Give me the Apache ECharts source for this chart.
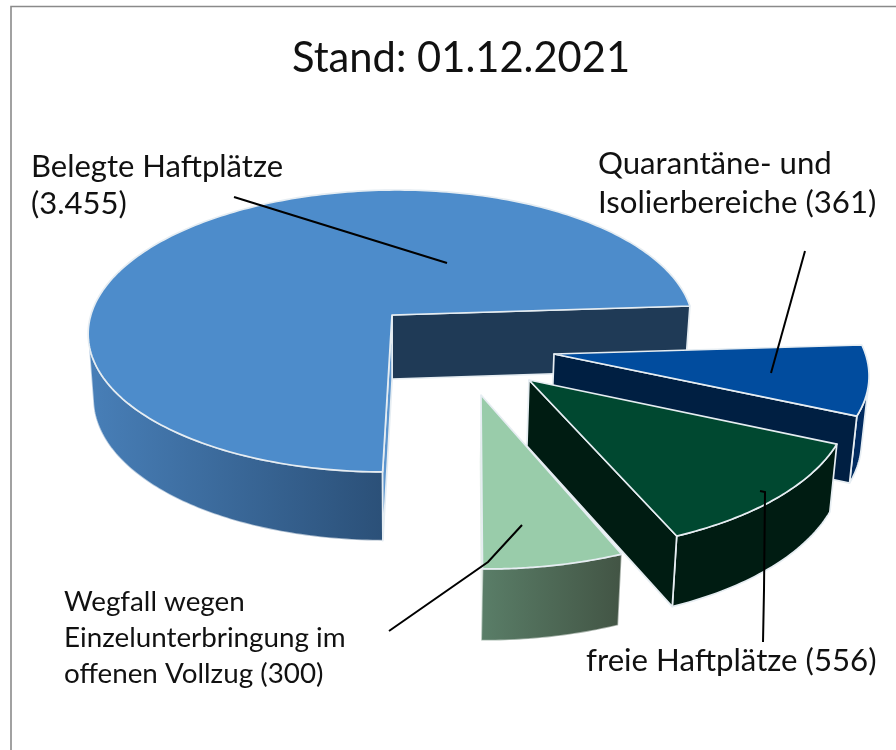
<!DOCTYPE html>
<html><head><meta charset="utf-8">
<style>html,body{margin:0;padding:0;background:#fff}#c{width:896px;height:750px}</style>
<script src="https://cdn.jsdelivr.net/npm/echarts@6/dist/echarts.min.js"></script>
</head><body><div id="c"></div>
<script>
// data
const categories = ['Belegte Haftplätze', 'Quarantäne- und Isolierbereiche', 'freie Haftplätze', 'Wegfall wegen Einzelunterbringung im offenen Vollzug'];
const values = [3455, 361, 556, 300];
const titleText = 'Stand: 01.12.2021';
const labelTexts = ['Belegte Haftplätze\n(3.455)', 'Quarantäne- und\nIsolierbereiche (361)', 'freie Haftplätze (556)', 'Wegfall wegen\nEinzelunterbringung im\noffenen Vollzug (300)'];

// layout and styles
const FONT = 'Lato';
const START_DEG = -1, PERSP = 0.1135;
const slices = [
  {apex:[392,315], origin:[390,315], m:[300.7,8,-6.6,139], top:'#4D8CCB', wall:'#1F3A56', end:'#5C95CE', rimL:'#487FB8', rimR:'#2B5078', rimLeftDeg:173.5},
  {apex:[554,354], origin:[554,354], m:[309,25.6,-6.5,143.4], top:'#014C9E', wall:'#001F42', rimR:'#012B60', rimFromDeg:14},
  {apex:[529,380], origin:[529,380], m:[315.2,23.9,-8.7,151.9], top:'#004830', wall:'#001C12'},
  {apex:[481,395], origin:[481,395], m:[316.6,16.7,-6.7,154.1], top:'#99CCAA', end:'#E4EFE8', rimL:'#5A7E68', rimR:'#425444'}
];
const labelBoxes = [
  {x:31, y:167, size:31, lh:37},
  {x:598, y:164, size:31.2, lh:39},
  {x:586, y:661, size:31.2, lh:36},
  {x:64, y:602, size:27.8, lh:36}
];
const leaders = [
  [[234,197],[447,263]],
  [[805,251],[771,373]],
  [[760,491],[765,492],[764,590],[763,642]],
  [[389,631],[488,562],[522,525]]
];
const EDGE = '#E6EDF2';

const total = values.reduce((a, b) => a + b, 0);
// wedge angle ranges, clockwise on screen, starting with Quarantäne at START_DEG
const ranges = [];
let acc = START_DEG;
[1, 2, 3, 0].forEach(i => { const sweep = values[i] / total * 360; ranges[i] = [acc, acc + sweep]; acc += sweep; });

function rim(sl, deg) {
  const t = deg * Math.PI / 180, u = Math.cos(t), v = Math.sin(t), s = 1 / (1 - PERSP * v);
  const U = u * s, V = v * s, m = sl.m;
  return [sl.origin[0] + m[0] * U + m[1] * V, sl.origin[1] + m[2] * U + m[3] * V];
}
function drop(p) {
  return [p[0] - (p[0] - 400) * 0.016, p[1] + 64 + (p[1] - 315) * 0.03];
}
function arc(sl, a, b, n) {
  const out = [];
  for (let i = 0; i <= n; i++) out.push(rim(sl, a + (b - a) * i / n));
  return out;
}
function band(sl, a, b, n) {
  const e = arc(sl, a, b, n);
  return e.concat(e.slice().reverse().map(drop));
}
function poly(points, fill, stroke) {
  return {type: 'polygon', shape: {points}, style: {fill, stroke: stroke === undefined ? EDGE : stroke, lineWidth: 1.7, lineJoin: 'round'}};
}
function hGrad(a, b) {
  return new echarts.graphic.LinearGradient(0, 0, 1, 0, [{offset: 0, color: a}, {offset: 1, color: b}]);
}
function renderItem(params, api) {
  const i = params.dataIndex, sl = slices[i], r = ranges[i];
  const kids = [];
  const start = r[0], end = r[1];
  const cStart = rim(sl, start), cEnd = rim(sl, end), b = sl.apex;
  if (i === 0) {
    // main piece: start = front end wall, end = right cut
    kids.push(poly(band(sl, start, sl.rimLeftDeg, 90), hGrad(sl.rimL, sl.rimR), 'rgba(255,255,255,0.6)'));
    kids.push(poly([b, cEnd, drop(cEnd), drop(b)], sl.wall));
    kids.push(poly([b, cStart, drop(cStart), drop(b)], sl.end));
  } else if (i === 1) {
    kids.push(poly(band(sl, sl.rimFromDeg, end, 20), sl.rimR));
    kids.push(poly([b, cEnd, drop(cEnd), drop(b)], sl.wall));
  } else if (i === 2) {
    kids.push(poly(band(sl, start, end, 40), sl.wall));
    kids.push(poly([b, cEnd, drop(cEnd), drop(b)], sl.wall));
  } else {
    kids.push(poly([b, cEnd, drop(cEnd), drop(b)], sl.end, 'none'));
    kids.push(poly(band(sl, start, end, 30), hGrad(sl.rimL, sl.rimR), 'rgba(255,255,255,0.5)'));
  }
  kids.push(poly([b].concat(arc(sl, start, end, i === 0 ? 240 : 60)), sl.top));
  return {type: 'group', children: kids};
}

const chart = echarts.init(document.getElementById('c'), null, {renderer: 'canvas'});
const graphics = [
  {type: 'polyline', z: 1, shape: {points: [[11, 750], [11, 6.5], [896, 6.5]]}, style: {fill: 'none', stroke: '#8A8A8A', lineWidth: 1.6}}
];
leaders.forEach(pts => graphics.push({type: 'polyline', z: 20, shape: {points: pts}, style: {fill: 'none', stroke: '#000', lineWidth: 2}}));
labelTexts.forEach((t, i) => {
  const b = labelBoxes[i];
  graphics.push({type: 'text', z: 21, x: b.x, y: b.y - b.lh / 2, style: {text: t, fontFamily: FONT, fontSize: b.size, lineHeight: b.lh, fill: '#111', textAlign: 'left', textVerticalAlign: 'top'}});
});
chart.setOption({
  animation: false,
  backgroundColor: '#fff',
  title: {text: titleText, left: 287, top: 33, textStyle: {fontFamily: FONT, fontWeight: 'normal', fontSize: 41.7, color: '#111'}},
  tooltip: {show: false},
  graphic: graphics,
  series: [{
    type: 'custom', coordinateSystem: 'none', clip: false, renderItem,
    data: values.map((v, i) => ({name: categories[i], value: v}))
  }]
});
</script></body></html>
